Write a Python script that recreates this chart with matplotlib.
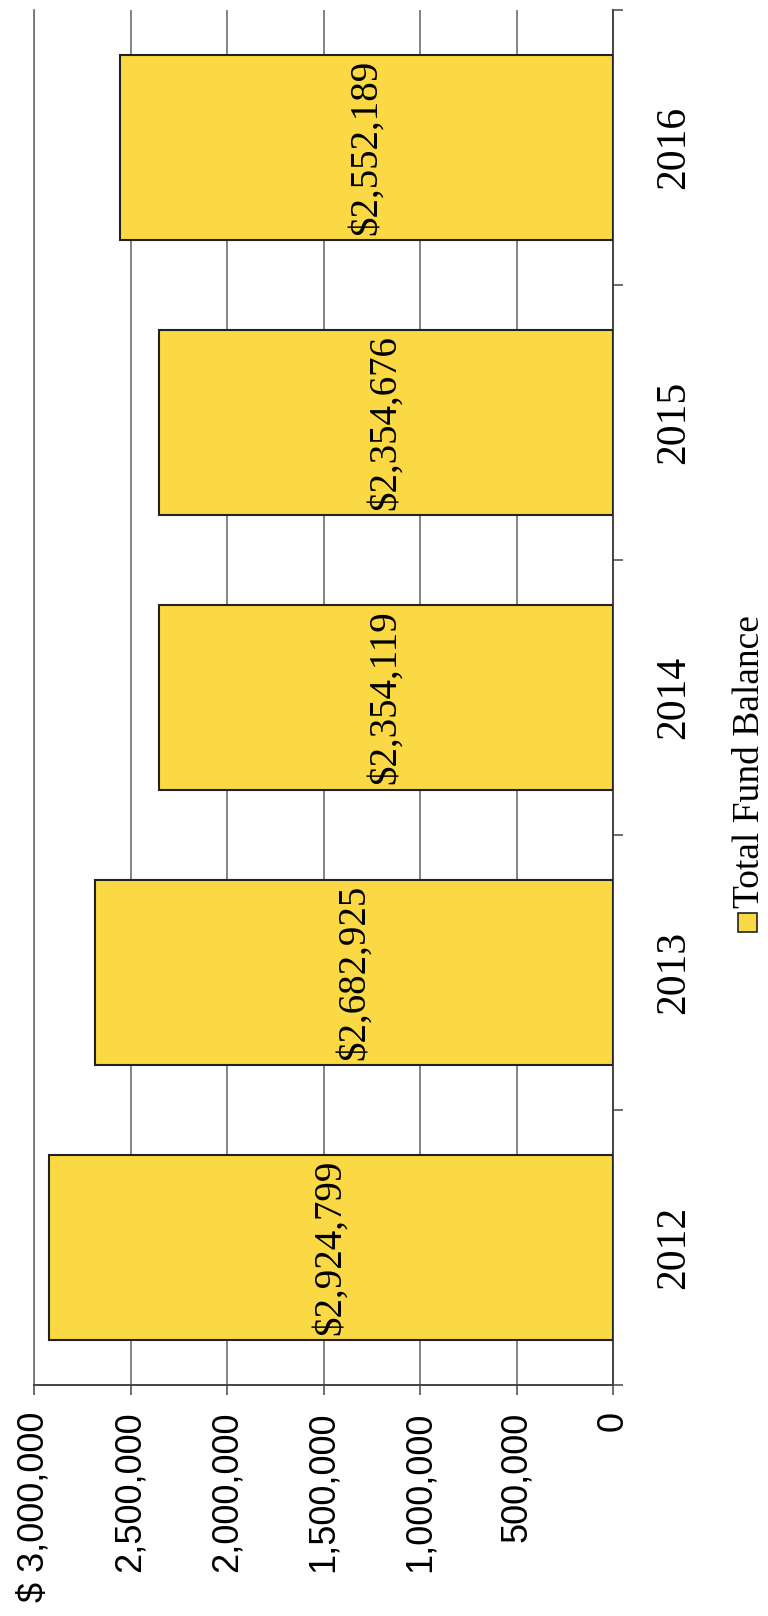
import matplotlib.pyplot as plt
from matplotlib.patches import Rectangle

# chart is a vertical column chart that was scanned rotated 90 degrees,
# so it is drawn here as horizontal bars with all text turned 90 degrees
YEARS = ["2012", "2013", "2014", "2015", "2016"]
BALANCES = [2924799, 2682925, 2354119, 2354676, 2552189]
VALUE_TICKS = [0, 500000, 1000000, 1500000, 2000000, 2500000, 3000000]
VALUE_TICK_LABELS = ["0", "500,000", "1,000,000", "1,500,000",
                     "2,000,000", "2,500,000", "$ 3,000,000"]
LEGEND_LABEL = "Total Fund Balance"

BAR_COLOR = "#FBD944"
EDGE = "#222222"
GRID = "#6E6E6E"
SERIF = "Liberation Serif"
SANS = "Liberation Sans"

W, H = 768, 1616
fig = plt.figure(figsize=(W / 100, H / 100), dpi=100)
ax = fig.add_axes([34 / W, 1 - 1385 / H, (613 - 34) / W, (1385 - 10) / H])

pos = list(range(len(YEARS)))
ax.barh(pos, BALANCES, height=0.67, color=BAR_COLOR, edgecolor=EDGE,
        linewidth=1.5, zorder=3)
ax.set_xlim(3000000, 0)
ax.set_ylim(-0.5, len(YEARS) - 0.5)

# gridlines
ax.set_axisbelow(True)
ax.xaxis.grid(True, color=GRID, linewidth=1.2)

ax.spines["top"].set_visible(False)
ax.spines["left"].set_color(GRID)
ax.spines["left"].set_linewidth(1.2)
ax.spines["right"].set_color("#444444")
ax.spines["right"].set_linewidth(1.4)
ax.spines["bottom"].set_color("#444444")
ax.spines["bottom"].set_linewidth(1.4)

# value axis (bottom)
ax.set_xticks(VALUE_TICKS)
ax.set_xticklabels(VALUE_TICK_LABELS, rotation=90, family=SANS, fontsize=26)
ax.tick_params(axis="x", direction="out", length=7, width=1.2,
               color="#555555", pad=12)

# category axis (right)
ax.yaxis.tick_right()
ax.set_yticks([p - 0.5 for p in pos] + [len(YEARS) - 0.5])
ax.set_yticklabels([])
ax.set_yticks(pos, minor=True)
ax.set_yticklabels(YEARS, minor=True, rotation=90, va="center",
                   family=SERIF, fontsize=30)
ax.tick_params(axis="y", which="major", direction="out", length=7,
               width=1.2, color="#555555")
ax.tick_params(axis="y", which="minor", length=0, pad=30)

# data labels
for p, v in zip(pos, BALANCES):
    ax.text(v / 2, p, f"${v:,}", rotation=90, ha="center", va="center",
            family=SERIF, fontsize=28, zorder=4)

# legend
fig.patches.append(Rectangle((738 / W, 1 - 932 / H), 19 / W, 19 / H,
                             transform=fig.transFigure, facecolor=BAR_COLOR,
                             edgecolor=EDGE, linewidth=1.2))
fig.text(750 / W, 1 - 908 / H, LEGEND_LABEL, rotation=90, ha="center",
         va="bottom", family=SERIF, fontsize=27)

fig.savefig("out.png", dpi=100, facecolor="white")
